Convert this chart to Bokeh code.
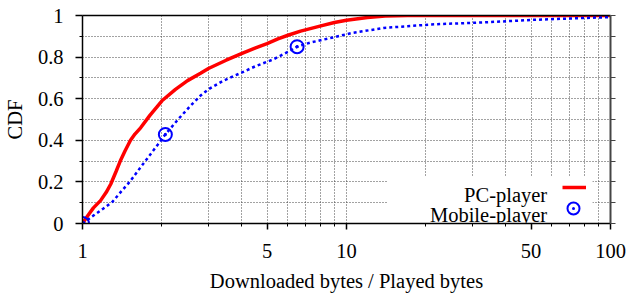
from bokeh.plotting import figure
from bokeh.models import (FixedTicker, CustomJSTickFormatter, LinearAxis, LogAxis,
                          Legend, LegendItem, BoxAnnotation, Range1d, Label)
from bokeh.embed import file_html
from bokeh.resources import INLINE

# ---- data ----
series_names = ["PC-player", "Mobile-player"]

pc_x = [1.0, 1.05, 1.1, 1.17, 1.23, 1.28, 1.34, 1.39, 1.45, 1.52, 1.58, 1.66, 1.8,
        2.0, 2.25, 2.5, 2.8, 3.0, 3.5, 4.0, 4.5, 5.0, 5.5, 6.0, 6.7, 8.0, 9.0,
        10.0, 12.0, 14.0, 17.0, 100.0]
pc_y = [0.0, 0.04, 0.075, 0.11, 0.15, 0.19, 0.25, 0.30, 0.35, 0.40, 0.43, 0.46, 0.52,
        0.59, 0.645, 0.687, 0.722, 0.745, 0.785, 0.817, 0.843, 0.865, 0.888, 0.905,
        0.925, 0.95, 0.966, 0.977, 0.99, 0.997, 1.0, 1.0]

mob_x = [1.0, 1.1, 1.2, 1.3, 1.4, 1.52, 1.65, 1.8, 1.93, 2.06, 2.3, 2.56, 2.8, 3.0,
         3.4, 4.0, 4.5, 5.3, 6.0, 6.5, 7.3, 9.0, 10.4, 13.8, 21.0, 33.0, 51.0, 79.0, 100.0]
mob_y = [0.0, 0.038, 0.072, 0.105, 0.153, 0.205, 0.266, 0.329, 0.38, 0.428, 0.50, 0.565,
         0.615, 0.645, 0.685, 0.725, 0.755, 0.79, 0.825, 0.85, 0.87, 0.896, 0.915, 0.94,
         0.957, 0.967, 0.979, 0.988, 0.992]

mob_mark_x = [1.0, 2.06, 6.5]
mob_mark_y = [0.0, 0.428, 0.85]

x_major = [1, 5, 10, 50, 100]
x_minor = [2, 3, 4, 6, 7, 8, 9, 20, 30, 40, 60, 70, 80, 90]
y_major = [0, 0.2, 0.4, 0.6, 0.8, 1.0]
y_minor = [0.1, 0.3, 0.5, 0.7, 0.9]

FONT = "Liberation Serif"
FS = "20.5px"

p = figure(frame_width=528, frame_height=208, x_axis_type="log",
           x_range=Range1d(1, 100), y_range=Range1d(0, 1),
           output_backend="svg", toolbar_location=None,
           min_border_left=82, min_border_right=18, min_border_top=15, min_border_bottom=70,
           x_axis_label="Downloaded bytes / Played bytes", y_axis_label="CDF")
p.outline_line_color = None
p.background_fill_color = "white"
p.border_fill_color = "white"

fmt = CustomJSTickFormatter(code="return String(Math.round(tick*100)/100)")
xt = FixedTicker(ticks=x_major, minor_ticks=x_minor)
yt = FixedTicker(ticks=y_major, minor_ticks=y_minor)

p.xaxis.ticker = xt
p.yaxis.ticker = yt
p.xgrid.ticker = xt
p.ygrid.ticker = yt
p.xaxis.formatter = fmt
p.yaxis.formatter = fmt

for g in (p.xgrid, p.ygrid):
    g.grid_line_color = "#444444"
    g.grid_line_dash = "1 2"
    g.grid_line_width = 1
    g.minor_grid_line_color = "#444444"
    g.minor_grid_line_dash = "1 2"
    g.minor_grid_line_width = 1

for ax in (p.xaxis[0], p.yaxis[0]):
    ax.axis_line_color = "black"
    ax.axis_line_width = 1.5
    ax.major_tick_line_color = "black"
    ax.minor_tick_line_color = "black"
    ax.major_tick_line_width = 1.5
    ax.major_tick_in = 0
    ax.minor_tick_in = 0
    ax.minor_tick_out = 3
    ax.major_label_text_font = FONT
    ax.major_label_text_font_size = FS
    ax.major_label_text_color = "black"
    ax.axis_label_text_font = FONT
    ax.axis_label_text_font_size = FS
    ax.axis_label_text_font_style = "normal"
    ax.axis_label_text_color = "black"

p.xaxis.major_tick_out = 6
p.xaxis.major_label_standoff = 14
p.xaxis.axis_label_standoff = 9
p.yaxis.major_tick_out = 7
p.yaxis.major_label_standoff = 12
p.yaxis.axis_label_standoff = 9

empty = CustomJSTickFormatter(code='return ""')
right = LinearAxis(ticker=FixedTicker(ticks=y_major + y_minor), formatter=empty,
                   axis_line_color="#444444", axis_line_width=2,
                   major_tick_line_color="#444444", major_tick_out=5, major_tick_in=0,
                   minor_tick_out=0, minor_tick_in=0, major_label_standoff=0)
p.add_layout(right, "right")
top = LogAxis(ticker=FixedTicker(ticks=[]), formatter=empty,
              axis_line_color="black", axis_line_width=1.5,
              major_tick_out=0, major_tick_in=0, minor_tick_out=0, minor_tick_in=0,
              major_label_standoff=0)
p.add_layout(top, "above")

# white key box that hides the grid behind the key (as in the reference)
mask = BoxAnnotation(left=14.3, right=85.5, bottom=0, top=0.226,
                     fill_color="white", fill_alpha=1.0, line_alpha=0, level="underlay")
p.add_layout(mask)

pc = p.line(pc_x, pc_y, line_color="red", line_width=3.5)
mob = p.line(mob_x, mob_y, line_color="blue", line_width=2.5, line_dash="3 3")
mk = p.scatter(mob_mark_x, mob_mark_y, marker="circle_dot", size=13,
               line_color="blue", line_width=2, fill_color=None)

# key: samples to the right of right-aligned names (gnuplot style)
common = dict(padding=0, margin=0, spacing=0, background_fill_alpha=0, border_line_alpha=0,
              label_text_font_size="1px", label_standoff=0, label_width=0, label_height=0)
leg1 = Legend(items=[LegendItem(label=" ", renderers=[pc])],
              location=(480, 26), glyph_width=24, glyph_height=20, **common)
leg2 = Legend(items=[LegendItem(label=" ", renderers=[mk])],
              location=(476, 0), glyph_width=30, glyph_height=30, **common)
p.add_layout(leg1)
p.add_layout(leg2)

for name, ypos in zip(series_names, [28.7, 8.7]):
    p.add_layout(Label(x=464.7, y=ypos, x_units="screen", y_units="screen", text=name,
                       text_align="right", text_baseline="alphabetic",
                       text_font=FONT, text_font_size=FS, text_color="black"))

open("out.html", "w").write(file_html(p, INLINE))
